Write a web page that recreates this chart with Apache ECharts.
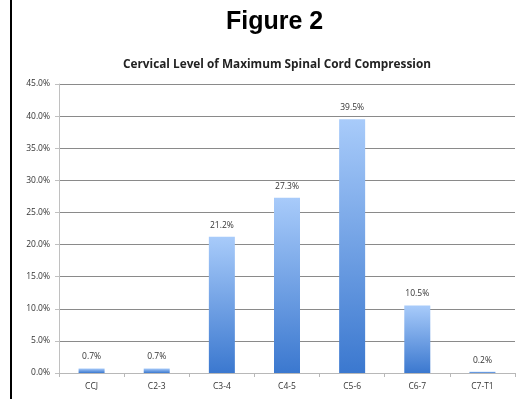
<!DOCTYPE html>
<html>
<head>
<meta charset="utf-8">
<script src="https://cdn.jsdelivr.net/npm/echarts@6/dist/echarts.min.js"></script>
<style>
  html, body { margin: 0; padding: 0; background: #fff; }
  #main { width: 517px; height: 399px; }
</style>
</head>
<body>
<div id="main"></div>
<script>
const categories = ['CCJ', 'C2-3', 'C3-4', 'C4-5', 'C5-6', 'C6-7', 'C7-T1'];
const percentValues = [0.7, 0.7, 21.2, 27.3, 39.5, 10.5, 0.2];
const yTickMax = 45;
const yTickStep = 5;

const chart = echarts.init(document.getElementById('main'));
const option = {
  backgroundColor: '#ffffff',
  animation: false,
  title: [
    {
      text: 'Figure 2',
      left: 221, top: 5,
      textStyle: { fontFamily: 'Liberation Sans', fontWeight: 'bold', fontSize: 25, color: '#000' }
    },
    {
      text: 'Cervical Level of Maximum Spinal Cord Compression',
      left: 118, top: 54,
      textStyle: { fontFamily: 'Open Sans', fontWeight: 'bold', fontSize: 11.8, color: '#222' }
    }
  ],
  graphic: [
    { type: 'rect', shape: { x: 10, y: 0, width: 2, height: 399 }, style: { fill: '#000' } }
  ],
  grid: { left: 59, right: 2, top: 84, bottom: 26 },
  xAxis: {
    type: 'category',
    data: categories,
    axisLine: { lineStyle: { color: '#b8b8b8' } },
    axisTick: { show: true, length: 4, lineStyle: { color: '#b8b8b8' } },
    axisLabel: { fontFamily: 'Open Sans', fontSize: 8.5, color: '#333', margin: 9 }
  },
  yAxis: {
    type: 'value',
    min: 0, max: yTickMax, interval: yTickStep,
    axisLine: { show: true, lineStyle: { color: '#c0c0c0' } },
    axisTick: { show: true, length: 4, lineStyle: { color: '#c0c0c0' } },
    axisLabel: { fontFamily: 'Open Sans', fontSize: 8.5, color: '#333', margin: 9,
      formatter: v => v.toFixed(1) + '%' },
    splitLine: { lineStyle: { color: '#8a8a8a', width: 1 } }
  },
  series: [{
    type: 'bar',
    data: percentValues,
    barWidth: 26,
    itemStyle: {
      color: new echarts.graphic.LinearGradient(0, 0, 0, 1, [
        { offset: 0, color: '#a8cbfa' },
        { offset: 1, color: '#3b78cf' }
      ])
    },
    label: {
      show: true, position: 'top', distance: 7,
      fontFamily: 'Open Sans', fontSize: 8.5, color: '#333',
      formatter: p => p.value.toFixed(1) + '%'
    }
  }]
};
chart.setOption(option);
</script>
</body>
</html>
